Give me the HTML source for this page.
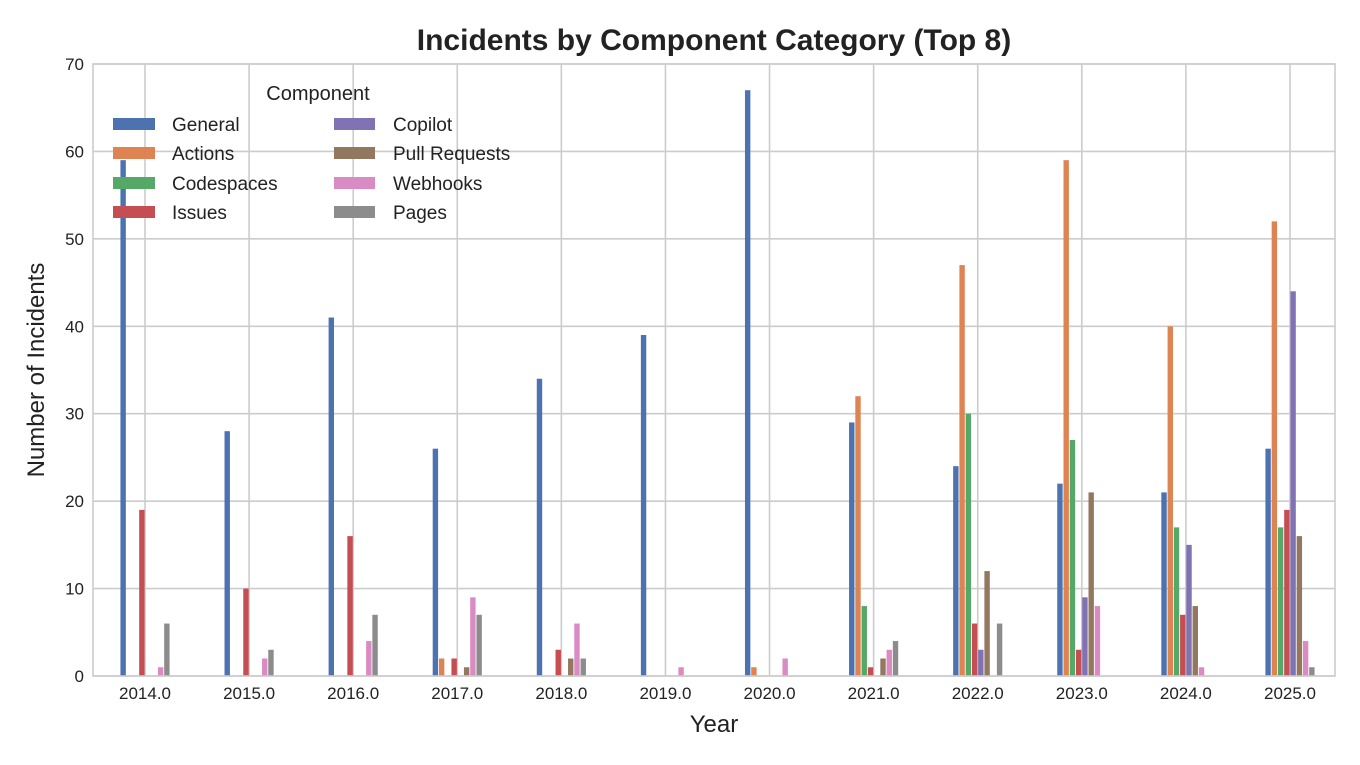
<!DOCTYPE html>
<html><head><meta charset="utf-8"><style>body{margin:0;background:#fff}svg{display:block}text{font-family:"Liberation Sans",Arial,sans-serif;fill:#222}</style></head>
<body>
<svg id="s" width="1360" height="765" xmlns="http://www.w3.org/2000/svg">
<rect width="1360" height="765" fill="#fff"/>
<text x="714" y="50" font-size="30" font-weight="bold" text-anchor="middle">Incidents by Component Category (Top 8)</text>
<g id="grid" stroke="#cccccc" stroke-width="1.6"></g>
<g id="bars"></g>
<rect x="93" y="64" width="1242" height="612" fill="none" stroke="#cccccc" stroke-width="1.6"/>
<g id="lab" font-size="17"></g>
<text x="714" y="732" font-size="24" text-anchor="middle">Year</text>
<text x="44" y="370" font-size="24" text-anchor="middle" transform="rotate(-90 44 370)">Number of Incidents</text>
<g font-size="19">
<text x="318" y="100" text-anchor="middle" font-size="20">Component</text>
<rect x="113" y="118" width="42" height="12" fill="#4c72b0"/><text x="172" y="131">General</text>
<rect x="113" y="147" width="42" height="12" fill="#dd8452"/><text x="172" y="160">Actions</text>
<rect x="113" y="177" width="42" height="12" fill="#55a868"/><text x="172" y="190">Codespaces</text>
<rect x="113" y="206" width="42" height="12" fill="#c44e52"/><text x="172" y="219">Issues</text>
<rect x="334" y="118" width="41" height="12" fill="#8172b3"/><text x="393" y="131">Copilot</text>
<rect x="334" y="147" width="41" height="12" fill="#937860"/><text x="393" y="160">Pull Requests</text>
<rect x="334" y="177" width="41" height="12" fill="#da8bc3"/><text x="393" y="190">Webhooks</text>
<rect x="334" y="206" width="41" height="12" fill="#8c8c8c"/><text x="393" y="219">Pages</text>
</g>
</svg>
<script>
const ns="http://www.w3.org/2000/svg";
const cols=["#4c72b0","#dd8452","#55a868","#c44e52","#8172b3","#937860","#da8bc3","#8c8c8c"];
const d=[[59,0,0,19,0,0,1,6],[28,0,0,10,0,0,2,3],[41,0,0,16,0,0,4,7],[26,2,0,2,0,1,9,7],[34,0,0,3,0,2,6,2],[39,0,0,0,0,0,1,0],[67,1,0,0,0,0,2,0],[29,32,8,1,0,2,3,4],[24,47,30,6,3,12,0,6],[22,59,27,3,9,21,8,0],[21,40,17,7,15,8,1,0],[26,52,17,19,44,16,4,1]];
const X=i=>145+i*104.09, Y=v=>676-v*8.743;
function el(t,a,p,txt){const e=document.createElementNS(ns,t);for(const k in a)e.setAttribute(k,a[k]);if(txt!==undefined)e.textContent=txt;document.getElementById(p).appendChild(e);}
for(let i=0;i<12;i++){el("line",{x1:X(i),x2:X(i),y1:64,y2:676},"grid");el("text",{x:X(i),y:699,"text-anchor":"middle"},"lab",(2014+i)+".0");}
for(let v=0;v<=70;v+=10){el("line",{x1:93,x2:1335,y1:Y(v),y2:Y(v)},"grid");el("text",{x:84,y:Y(v)+6,"text-anchor":"end"},"lab",v);}
d.forEach((r,i)=>r.forEach((v,j)=>{if(v>0){const c=X(i)+(j-3.5)*6.25;el("rect",{x:c-2.7,y:Y(v),width:5.4,height:v*8.743,fill:cols[j]},"bars");}}));
</script>
</body></html>
